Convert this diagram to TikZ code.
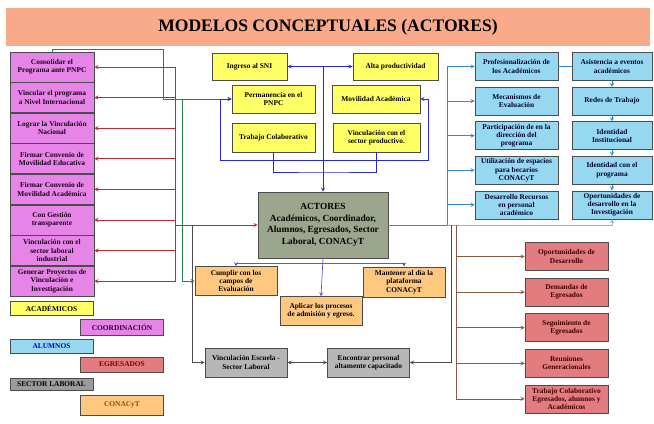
\documentclass[tikz,border=0pt]{standalone}
\usepackage{fontspec}
\setmainfont{Liberation Serif}
\usetikzlibrary{arrows, positioning}

\definecolor{titlefill}{RGB}{249,170,138}
\definecolor{coordfill}{RGB}{230,132,232}
\definecolor{acadfill}{RGB}{255,255,102}
\definecolor{alumfill}{RGB}{150,216,240}
\definecolor{egrefill}{RGB}{226,124,126}
\definecolor{conafill}{RGB}{255,200,128}
\definecolor{labofill}{RGB}{182,182,182}
\definecolor{actofill}{RGB}{156,166,140}
\definecolor{redline}{RGB}{190,40,50}
\definecolor{greenline}{RGB}{40,130,80}
\definecolor{blueline}{RGB}{40,40,210}
\definecolor{cyanline}{RGB}{50,140,200}
\definecolor{brownline}{RGB}{140,90,60}
\definecolor{purpline}{RGB}{110,80,200}

\tikzstyle{concept} = [rectangle, draw=black!70, line width=0.5pt, align=center, inner sep=1pt, font=\fontsize{6.3}{7.1}\selectfont\bfseries]
\tikzstyle{coordbox} = [concept, fill=coordfill, minimum width=2.52cm, minimum height=0.9cm, text=black!80!violet]
\tikzstyle{acadbox} = [concept, fill=acadfill, minimum width=2.49cm, minimum height=0.84cm]
\tikzstyle{alumbox} = [concept, fill=alumfill, minimum width=2.49cm, minimum height=0.84cm, text=black!80!blue]
\tikzstyle{egrebox} = [concept, fill=egrefill, minimum width=2.49cm, minimum height=0.84cm, text=black!75!red]
\tikzstyle{conabox} = [concept, fill=conafill, minimum width=2.46cm, minimum height=0.86cm]
\tikzstyle{labobox} = [concept, fill=labofill, minimum width=2.46cm, minimum height=0.87cm]
\tikzstyle{legend} = [concept, minimum width=2.48cm, minimum height=0.44cm]
\tikzstyle{arrow} = [->,>=stealth]
\tikzstyle{link} = [line width=0.6pt, >=stealth]

\begin{document}
\begin{tikzpicture}[x=0.03cm, y=-0.03cm]
    \useasboundingbox (0,0) rectangle (654,423);

    % title
    \node (title) [rectangle, fill=titlefill, minimum width=19.32cm, minimum height=1.14cm, font=\fontsize{15}{17}\selectfont\bfseries] at (328,27) {MODELOS CONCEPTUALES (ACTORES)};

    % coordinacion
    \node (c1) [coordbox] at (52,67) {Consolidar el\\Programa ante PNPC};
    \node (c2) [coordbox, below=0pt of c1] {Vincular el programa\\a Nivel Internacional};
    \node (c3) [coordbox, below=0pt of c2] {Lograr la Vinculación\\Nacional};
    \node (c4) [coordbox, below=0pt of c3] {Firmar Convenio de\\Movilidad Educativa};
    \node (c5) [coordbox, below=0pt of c4] {Firmar Convenio de\\Movilidad Académica};
    \node (c6) [coordbox, below=0pt of c5] {Con Gestión\\transparente};
    \node (c7) [coordbox, below=0pt of c6] {Vinculación con el\\sector laboral\\industrial};
    \node (c8) [coordbox, below=0pt of c7] {Generar Proyectos de\\Vinculación e\\Investigación};

    % academicos
    \node (ingreso) [acadbox, minimum width=2.25cm, minimum height=0.81cm] at (249.5,66.5) {Ingreso al SNI};
    \node (alta) [acadbox, minimum width=2.55cm, minimum height=0.81cm] at (395.5,66.5) {Alta productividad};
    \node (perm) [acadbox] at (273.5,99) {Permanencia en el\\PNPC};
    \node (mov) [acadbox, minimum width=2.64cm] at (376,99) {Movilidad Académica};
    \node (trab) [acadbox, minimum height=0.87cm] at (273.5,137.5) {Trabajo Colaborativo};
    \node (vprod) [acadbox, minimum width=2.61cm, minimum height=0.87cm] at (376.5,137.5) {Vinculación con el\\sector productivo.};

    % actores
    \node (actores) [concept, fill=actofill, minimum width=3.9cm, minimum height=1.98cm, font=\fontsize{8}{10}\selectfont\bfseries] at (323,225) {ACTORES\\Académicos, Coordinador,\\Alumnos, Egresados, Sector\\Laboral, CONACyT};

    % alumnos
    \node (a1) [alumbox] at (516.5,66.5) {Profesionalización de\\los Académicos};
    \node (a2) [alumbox, below=0.18cm of a1] {Mecanismos de\\Evaluación};
    \node (a3) [alumbox, below=0.18cm of a2] {Participación de en la\\dirección del\\programa};
    \node (a4) [alumbox, below=0.18cm of a3] {Utilización de espacios\\para becarios\\CONACyT};
    \node (a5) [alumbox, below=0.18cm of a4] {Desarrollo Recursos\\en personal\\académico};
    \node (b1) [alumbox, minimum width=2.4cm] at (612,66.5) {Asistencia a eventos\\académicos};
    \node (b2) [alumbox, minimum width=2.4cm, below=0.18cm of b1] {Redes de Trabajo};
    \node (b3) [alumbox, minimum width=2.4cm, below=0.18cm of b2] {Identidad\\Institucional};
    \node (b4) [alumbox, minimum width=2.4cm, below=0.18cm of b3] {Identidad con el\\programa};
    \node (b5) [alumbox, minimum width=2.4cm, below=0.18cm of b4] {Oportunidades de\\desarrollo en la\\Investigación};

    % egresados
    \node (e1) [egrebox] at (566.5,256.5) {Oportunidades de\\Desarrollo};
    \node (e2) [egrebox, below=0.21cm of e1] {Demandas de\\Egresados};
    \node (e3) [egrebox, below=0.21cm of e2] {Seguimiento de\\Egresados};
    \node (e4) [egrebox, below=0.21cm of e3] {Reuniones\\Generacionales};
    \node (e5) [egrebox, below=0.21cm of e4] {Trabajo Colaborativo\\Egresados, alumnos y\\Académicos};

    % conacyt
    \node (cumplir) [conabox] at (236,281) {Cumplir con los\\campos de\\Evaluación};
    \node (aplicar) [conabox] at (321,311) {Aplicar los procesos\\de admisión y egreso.};
    \node (mantener) [conabox, minimum height=0.9cm] at (404,282) {Mantener al día la\\plataforma\\CONACyT};

    % sector laboral
    \node (vesc) [labobox] at (246,362.5) {Vinculación Escuela -\\Sector Laboral};
    \node (encontrar) [labobox] at (368.5,362.5) {Encontrar personal\\altamente capacitado};

    % leyenda
    \node (l1) [legend, fill=acadfill, minimum height=0.42cm] at (51.5,308) {ACADÉMICOS};
    \node (l2) [legend, fill=coordfill, minimum height=0.48cm, text=black!60!violet] at (122,327) {COORDINACIÓN};
    \node (l3) [legend, fill=alumfill, minimum height=0.42cm, text=blue!80!black] at (51.5,346) {ALUMNOS};
    \node (l4) [legend, fill=egrefill, minimum height=0.45cm, text=red!50!black] at (122,364.5) {EGRESADOS};
    \node (l5) [legend, fill=labofill!85!black, minimum height=0.36cm] at (51.5,384) {SECTOR LABORAL};
    \node (l6) [legend, fill=conafill, minimum height=0.6cm, text=orange!60!black] at (122,405) {CONACyT};

    % bus points
    \coordinate (redbus) at (175,225);
    \coordinate (greentop) at (163,49);
    \coordinate (greenknee) at (182,100);
    \coordinate (vescknee) at (192,225);
    \coordinate (bluetop) at (323,67);
    \coordinate (bluel) at (220,160);
    \coordinate (bluer) at (428,160);
    \coordinate (bluemid) at (323,172);
    \coordinate (cyanbus) at (447,225);
    \coordinate (encbus) at (451,225);
    \coordinate (egrebus) at (456,225);
    \coordinate (orbar) at (323,263);

    % connectors
    \foreach \n in {1,...,8}
        \draw [link, redline, <-] (c\n.east) -| (redbus);
    \draw [link, redline, ->] (redbus) -- (actores.west);
    \draw [link, greenline, ->] (c1.north) |- (greentop) |- (perm.west);
    \draw [link, greenline, ->] (greenknee) |- (cumplir.west);
    \draw [link, black!70, ->] (vescknee) |- (vesc.west);

    \draw [link, blueline, <->] (ingreso.east) -- (alta.west);
    \draw [link, blueline, ->] (bluetop) -- (actores.north);
    \draw [link, blueline, <->] (perm.west) -| (bluel) -- (bluer) |- (mov.east);
    \draw [link, blueline] (trab.south) |- (bluemid) -| (vprod.south);

    \draw [link, cyanline] (actores.east) -- (cyanbus);
    \foreach \n in {1,...,5}
        \draw [link, cyanline, <-] (a\n.west) -| (cyanbus);
    \draw [link, cyanline] (a1.east) -- (b1.west);
    \draw [link, cyanline, ->] (b1.south) -- (b2.north);
    \draw [link, cyanline, ->] (b2.south) -- (b3.north);
    \draw [link, cyanline, ->] (b3.south) -- (b4.north);
    \draw [link, cyanline, ->] (b4.south) -- (b5.north);
    \draw [link, cyanline!60, ->] (cyanbus) -| (b5.south);

    \foreach \n in {1,...,5}
        \draw [link, brownline, <-] (e\n.west) -| (egrebus);
    \draw [link, black!70, ->] (encbus) |- (encontrar.east);

    \draw [link, purpline, ->] (actores.south) -- (aplicar.north);
    \draw [link, purpline, ->] (orbar) -| (cumplir.north);
    \draw [link, purpline, ->] (orbar) -| (mantener.north);
    \draw [link, black!70, <->] (vesc.east) -- (encontrar.west);

\end{tikzpicture}
\end{document}
